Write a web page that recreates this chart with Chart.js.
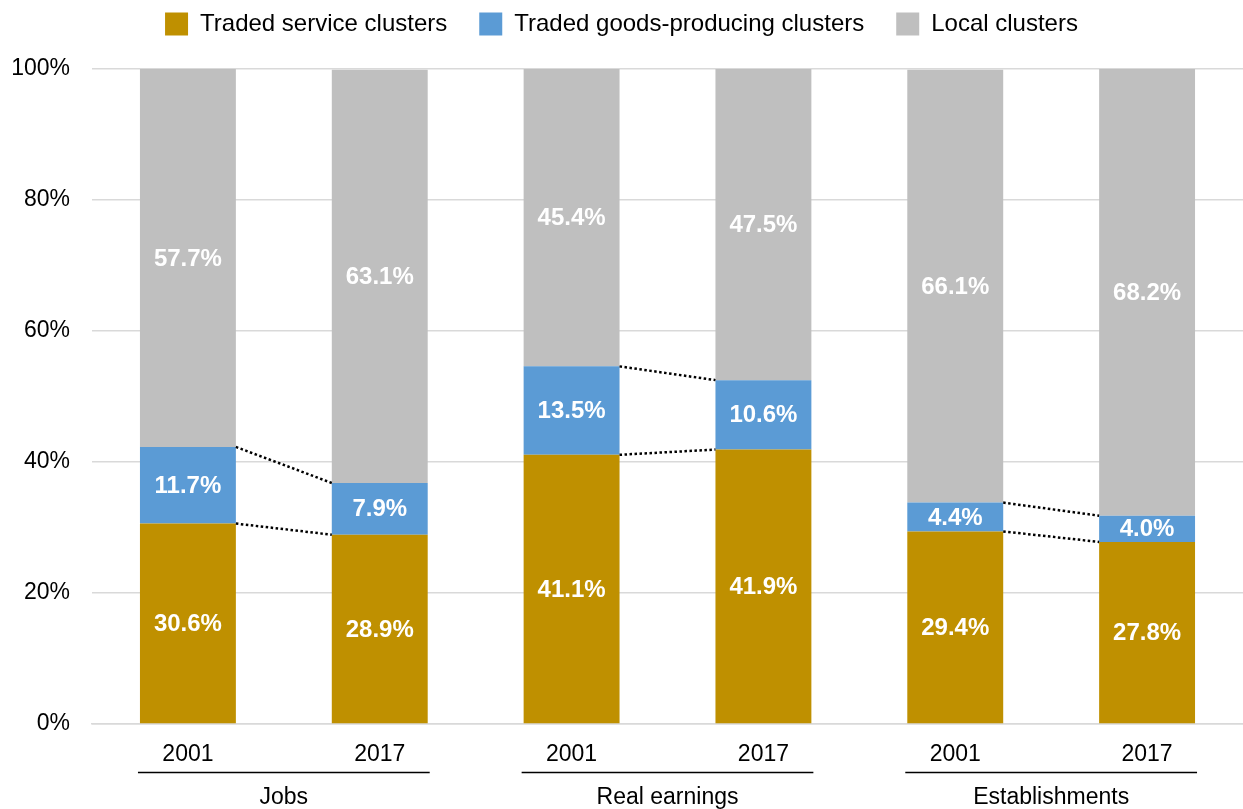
<!DOCTYPE html>
<html>
<head>
<meta charset="utf-8">
<script src="https://cdn.jsdelivr.net/npm/chart.js@4/dist/chart.umd.min.js"></script>
<style>
  html, body { margin: 0; padding: 0; background: #fff; }
  #wrap { width: 1243px; height: 809px; position: relative; }
</style>
</head>
<body>
<div id="wrap"><canvas id="c"></canvas></div>
<script>
// values
const years = ['2001', '2017', '2001', '2017', '2001', '2017'];
const groups = ['Jobs', 'Real earnings', 'Establishments'];
const servicePct = [30.6, 28.9, 41.1, 41.9, 29.4, 27.8];
const goodsPct = [11.7, 7.9, 13.5, 10.6, 4.4, 4.0];
const localPct = [57.7, 63.1, 45.4, 47.5, 66.1, 68.2];
const yTicks = [0, 20, 40, 60, 80, 100];

const FONT = "'Liberation Sans', Arial, sans-serif";

// make the legend take the whole band above the plot
const legendBand = {
    id: 'legendBand',
    afterInit(chart) {
        const lg = chart.legend;
        const fit = lg.fit;
        lg.fit = function () {
            fit.call(this);
            this.height = 69;
        };
    }
};

// white bold labels in the middle of each segment
const segLabels = {
    id: 'segLabels',
    afterDatasetsDraw(chart) {
        const ctx = chart.ctx;
        ctx.save();
        ctx.fillStyle = '#fff';
        ctx.font = 'bold 24px ' + FONT;
        ctx.textAlign = 'center';
        ctx.textBaseline = 'middle';
        chart.data.datasets.forEach((ds, di) => {
            let meta = chart.getDatasetMeta(di);
            meta.data.forEach((bar, i) => {
                let p = bar.getProps(['x', 'y', 'base'], true);
                ctx.fillText(ds.data[i].toFixed(1) + '%', p.x, (p.y + p.base) / 2 + 1);
            });
        });
        ctx.restore();
    }
};

// dotted connectors between the two bars of each group
const connectors = {
    id: 'connectors',
    afterDatasetsDraw(chart) {
        const ctx = chart.ctx;
        ctx.save();
        ctx.strokeStyle = '#000';
        ctx.lineWidth = 2.5;
        ctx.setLineDash([2.5, 2.5]);
        [0, 1].forEach(di => {
            let meta = chart.getDatasetMeta(di);
            for (let g = 0; g < groups.length; g++) {
                let a = meta.data[g * 2].getProps(['x', 'y', 'width'], true);
                let b = meta.data[g * 2 + 1].getProps(['x', 'y', 'width'], true);
                ctx.beginPath();
                ctx.moveTo(a.x + a.width / 2, a.y);
                ctx.lineTo(b.x - b.width / 2, b.y);
                ctx.stroke();
            }
        });
        ctx.restore();
    }
};

// group captions under the year labels
const groupAxis = {
    id: 'groupAxis',
    afterDraw(chart) {
        const ctx = chart.ctx;
        const meta = chart.getDatasetMeta(0);
        ctx.save();
        ctx.strokeStyle = '#000';
        ctx.lineWidth = 1.5;
        ctx.fillStyle = '#000';
        ctx.font = '23px ' + FONT;
        ctx.textAlign = 'center';
        ctx.textBaseline = 'middle';
        for (let g = 0; g < groups.length; g++) {
            let a = meta.data[g * 2].getProps(['x', 'width'], true);
            let b = meta.data[g * 2 + 1].getProps(['x', 'width'], true);
            let x0 = a.x - a.width / 2 - 2, x1 = b.x + b.width / 2 + 2;
            ctx.beginPath();
            ctx.moveTo(x0, 772.5);
            ctx.lineTo(x1, 772.5);
            ctx.stroke();
            ctx.fillText(groups[g], (x0 + x1) / 2, 798);
        }
        ctx.restore();
    }
};

new Chart(document.getElementById('c'), {
    type: 'bar',
    data: {
        labels: years,
        datasets: [
            { label: 'Traded service clusters', data: servicePct, backgroundColor: '#bf9000' },
            { label: 'Traded goods-producing clusters', data: goodsPct, backgroundColor: '#5b9bd5' },
            { label: 'Local clusters', data: localPct, backgroundColor: '#bfbfbf' }
        ]
    },
    options: {
        responsive: true,
        maintainAspectRatio: false,
        animation: false,
        datasets: { bar: { categoryPercentage: 1, barPercentage: 0.5, borderWidth: 0 } },
        layout: { padding: 0 },
        scales: {
            x: {
                stacked: true,
                grid: { display: false },
                border: { color: '#d9d9d9', width: 1.5 },
                afterFit(axis) { axis.height = 85; },
                ticks: { color: '#000', font: { family: FONT, size: 23 }, padding: 9 }
            },
            y: {
                stacked: true,
                min: 0,
                max: 100,
                afterBuildTicks(axis) { axis.ticks = yTicks.map(v => ({ value: v })); },
                afterFit(axis) { axis.width = 92; },
                grid: { color: '#d9d9d9', lineWidth: 1.5, drawTicks: false },
                border: { display: false },
                ticks: {
                    color: '#000',
                    padding: 22,
                    font: { family: FONT, size: 23 },
                    callback: v => v + '%'
                }
            }
        },
        plugins: {
            legend: {
                position: 'top',
                labels: {
                    boxWidth: 23,
                    boxHeight: 23,
                    padding: 12,
                    color: '#000',
                    font: { family: FONT, size: 24 },
                    generateLabels(chart) {
                        let items = Chart.defaults.plugins.legend.labels.generateLabels(chart);
                        items.forEach((it, i) => {
                            if (i < items.length - 1) it.text += '   ';
                        });
                        return items;
                    }
                }
            },
            tooltip: { enabled: false }
        }
    },
    plugins: [legendBand, segLabels, connectors, groupAxis]
});
</script>
</body>
</html>
